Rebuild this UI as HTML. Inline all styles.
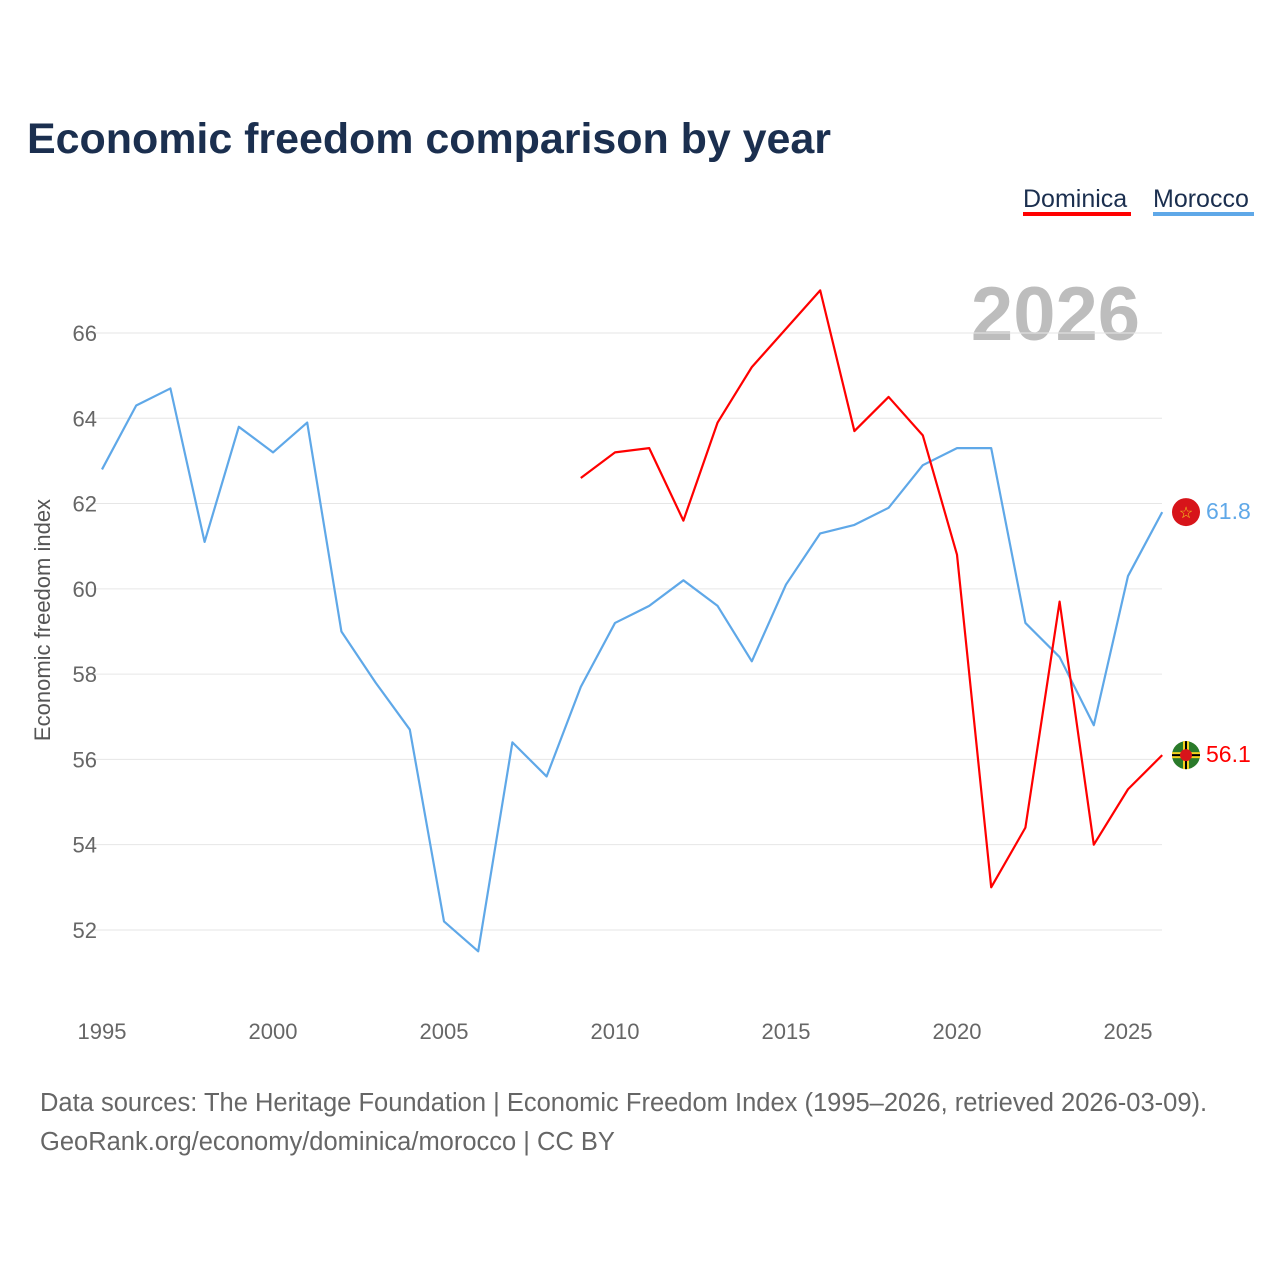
<!DOCTYPE html>
<html><head><meta charset="utf-8"><style>
body{margin:0;background:#fff;font-family:"Liberation Sans",sans-serif;}
</style></head><body>
<svg id="c" width="1280" height="1280" xmlns="http://www.w3.org/2000/svg">
<text x="27" y="153" font-size="43" font-weight="bold" fill="#1b2f4f" textLength="804">Economic freedom comparison by year</text>
<g>
<text x="1023" y="207" font-size="25" fill="#1b2f4f">Dominica</text>
<rect x="1023" y="212" width="108" height="4" fill="#ff0000"/>
<text x="1153" y="207" font-size="25" fill="#1b2f4f">Morocco</text>
<rect x="1153" y="212" width="101" height="4" fill="#5fa8e8"/>
</g>
<text x="1140" y="340" font-size="76" font-weight="bold" fill="#bdbdbd" text-anchor="end">2026</text>
<text transform="translate(50,620) rotate(-90)" font-size="22" fill="#555" text-anchor="middle">Economic freedom index</text>
<g id="grid"></g><g id="xt"></g><g id="lines"></g>
<text x="40" y="1111" font-size="25.5" fill="#666">Data sources: The Heritage Foundation | Economic Freedom Index (1995–2026, retrieved 2026-03-09).</text>
<text x="40" y="1150" font-size="25.5" fill="#666">GeoRank.org/economy/dominica/morocco | CC BY</text>
</svg>
<script>
const years=[1995,1996,1997,1998,1999,2000,2001,2002,2003,2004,2005,2006,2007,2008,2009,2010,2011,2012,2013,2014,2015,2016,2017,2018,2019,2020,2021,2022,2023,2024,2025,2026];
const morocco=[62.8,64.3,64.7,61.1,63.8,63.2,63.9,59.0,57.8,56.7,52.2,51.5,56.4,55.6,57.7,59.2,59.6,60.2,59.6,58.3,60.1,61.3,61.5,61.9,62.9,63.3,63.3,59.2,58.4,56.8,60.3,61.8];
const dominicaYears=[2009,2010,2011,2012,2013,2014,2015,2016,2017,2018,2019,2020,2021,2022,2023,2024,2025,2026];
const dominica=[62.6,63.2,63.3,61.6,63.9,65.2,66.1,67.0,63.7,64.5,63.6,60.8,53.0,54.4,59.7,54.0,55.3,56.1];
const yTicks=[52,54,56,58,60,62,64,66];
const xTicks=[1995,2000,2005,2010,2015,2020,2025];
const NS="http://www.w3.org/2000/svg";
const X=y=>102+(y-1995)*34.2;
const Y=v=>333+(66-v)*42.64;
function el(t,a,p){const e=document.createElementNS(NS,t);for(const k in a)e.setAttribute(k,a[k]);p.appendChild(e);return e;}
const g=document.getElementById('grid');
yTicks.forEach(v=>{
 const l=el('line',{x1:90,x2:1162,y1:Y(v),y2:Y(v),stroke:'#e6e6e6','stroke-width':1},g);
 
 
 const t=el('text',{x:97,y:Y(v)+8,'font-size':22,fill:'#666','text-anchor':'end'},g);t.textContent=v;
 
 
});
const xt=document.getElementById('xt');
xTicks.forEach(y=>{
 const t=el('text',{x:X(y),y:1039,'font-size':22,fill:'#666','text-anchor':'middle'},xt);t.textContent=y;
 
 
});
const L=document.getElementById('lines');
function series(xs,vs,col,name){
 const p=el('polyline',{points:xs.map((y,i)=>X(y)+','+Y(vs[i])).join(' '),fill:'none',stroke:col,'stroke-width':2.2,'stroke-linejoin':'round'},L);
 
 
 const last=vs[vs.length-1],ly=Y(last);
 const fg=el('g',{},L);
 
 
 if(name==='morocco'){
  el('circle',{cx:1186,cy:ly,r:14,fill:'#d7141a'},fg);
  el('text',{x:1186,y:ly+6,'font-size':16,fill:'#f4d21f','text-anchor':'middle'},fg).textContent='☆';
 } else {
  el('circle',{cx:1186,cy:ly,r:14,fill:'#2a7a2a'},fg);
  el('rect',{x:1172,y:ly-3,width:28,height:6,fill:'#f4d21f'},fg);
  el('rect',{x:1172,y:ly-1,width:28,height:2,fill:'#000'},fg);
  el('rect',{x:1183,y:ly-14,width:6,height:28,fill:'#f4d21f'},fg);
  el('rect',{x:1185,y:ly-14,width:2,height:28,fill:'#000'},fg);
  el('circle',{cx:1186,cy:ly,r:6,fill:'#d7141a'},fg);
 }
 const t=el('text',{x:1206,y:ly+7,'font-size':23,fill:col},L);t.textContent=last.toFixed(1);
 
 
}
series(years,morocco,'#5fa8e8','morocco');
series(dominicaYears,dominica,'#ff0000','dominica');
</script>
</body></html>
